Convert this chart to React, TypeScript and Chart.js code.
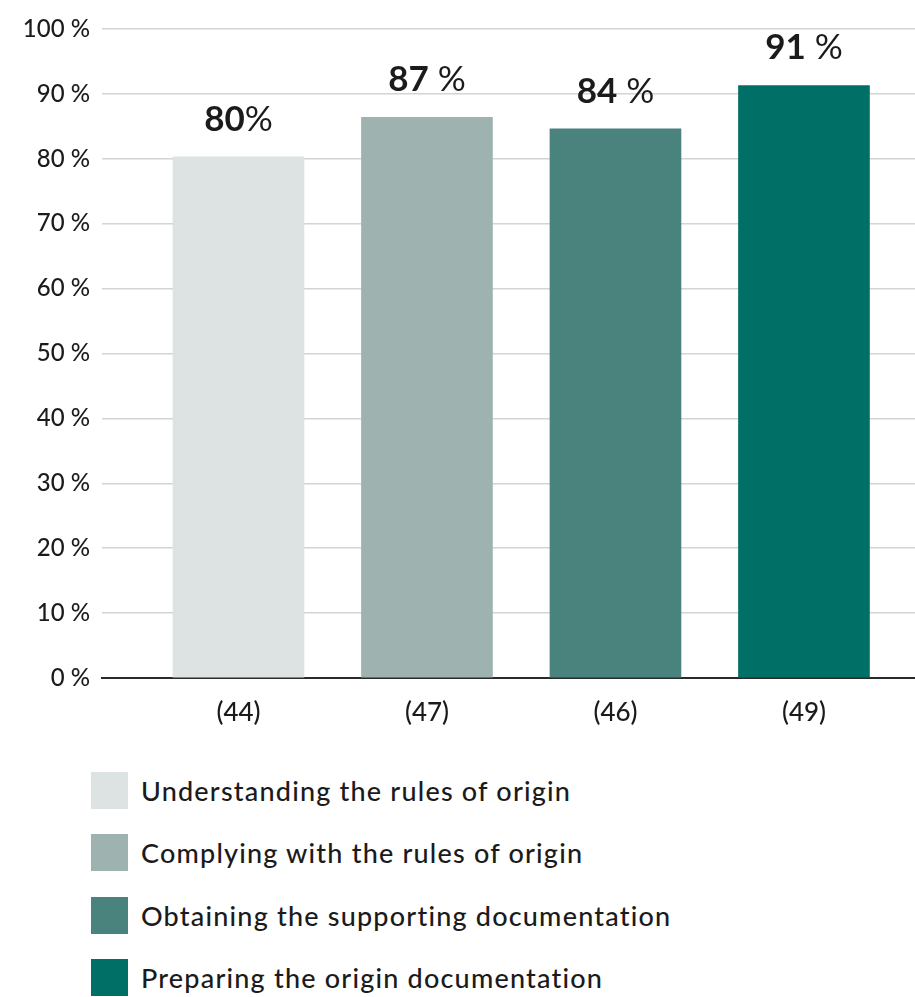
import React, { useEffect, useRef } from "react";
import { Chart, registerables } from "chart.js";

Chart.register(...registerables);

const categories = [
  "Understanding the rules of origin",
  "Complying with the rules of origin",
  "Obtaining the supporting documentation",
  "Preparing the origin documentation",
];
const values = [80.3, 86.4, 84.6, 91.3];
const valueLabels = ["80%", "87 %", "84 %", "91 %"];
const sampleLabels = ["(44)", "(47)", "(46)", "(49)"];
const colors = ["#dde3e2", "#9eb3b0", "#4a837d", "#006f66"];
const yTicks = [0, 10, 20, 30, 40, 50, 60, 70, 80, 90, 100];

const FONT = "Lato, 'Noto Sans', sans-serif";
const TEXT = "#1b1b1b";

const labelPlugin = {
  id: "barValueLabels",
  afterDatasetsDraw(chart: any) {
    const ctx = chart.ctx;
    const meta = chart.getDatasetMeta(0);
    meta.data.forEach((bar: any, i: number) => {
      const text = valueLabels[i];
      const m = text.match(/^(\d+)(.*)$/);
      const num = m ? m[1] : text;
      const rest = m ? m[2] : "";
      ctx.save();
      ctx.fillStyle = TEXT;
      ctx.textBaseline = "alphabetic";
      ctx.font = `700 35px ${FONT}`;
      const w1 = ctx.measureText(num).width;
      ctx.font = `400 35px ${FONT}`;
      const w2 = ctx.measureText(rest).width;
      const total = w1 + w2;
      const x0 = bar.x - total / 2;
      const yb = bar.y - 26;
      ctx.font = `700 35px ${FONT}`;
      ctx.textAlign = "left";
      ctx.fillText(num, x0, yb);
      ctx.font = `400 35px ${FONT}`;
      ctx.fillText(rest, x0 + w1, yb);
      ctx.restore();
    });
  },
};

export default function App() {
  const ref = useRef<HTMLCanvasElement | null>(null);

  useEffect(() => {
    if (!ref.current) return;
    const chart = new Chart(ref.current, {
      type: "bar",
      data: {
        datasets: [
          {
            data: values.map((v, i) => ({ x: i, y: v })),
            backgroundColor: colors,
            borderWidth: 0,
            barThickness: 131,
          } as any,
        ],
      },
      options: {
        animation: false,
        responsive: false,
        maintainAspectRatio: false,
        layout: { padding: { top: 29, right: 0, left: 0, bottom: 0 } },
        plugins: {
          legend: { display: false },
          tooltip: { enabled: false },
        },
        scales: {
          x: {
            type: "linear",
            offset: false,
            min: -0.724,
            max: 3.589,
            afterBuildTicks: (scale: any) => {
              scale.ticks = sampleLabels.map((_, i) => ({ value: i }));
            },
            afterFit: (scale: any) => {
              scale.height = 67;
            },
            ticks: {
              autoSkip: false,
              maxRotation: 0,
              padding: 19,
              color: TEXT,
              font: { family: FONT, size: 26, weight: "500" },
              callback: (v: any) => sampleLabels[v] ?? "",
            },
            grid: { display: false, drawTicks: false },
            border: { display: true, color: "#2a2a2a", width: 2 },
          },
          y: {
            min: 0,
            max: 100,
            afterBuildTicks: (scale: any) => {
              scale.ticks = yTicks.map((v) => ({ value: v }));
            },
            afterFit: (scale: any) => {
              scale.width = 102;
            },
            ticks: {
              padding: 12,
              color: TEXT,
              font: { family: FONT, size: 24, weight: "500" },
              callback: (v: any) => `${v} %`,
            },
            grid: {
              drawTicks: false,
              color: (c: any) => (c.tick && c.tick.value === 0 ? "rgba(0,0,0,0)" : "#d4d4d4"),
              lineWidth: 1.5,
            },
            border: { display: false },
          },
        },
      },
      plugins: [labelPlugin],
    } as any);
    return () => chart.destroy();
  }, []);

  return (
    <div
      style={{
        position: "absolute",
        left: 0,
        top: 0,
        width: 915,
        height: 997,
        background: "#fff",
        fontFamily: FONT,
      }}
    >
      <canvas ref={ref} width={915} height={745} style={{ display: "block" }} />
      {categories.map((c, i) => (
        <div
          key={c}
          style={{
            position: "absolute",
            left: 91,
            top: 772 + i * 62.3,
            height: 37,
            display: "flex",
            alignItems: "center",
          }}
        >
          <div style={{ width: 37, height: 37, background: colors[i] }} />
          <span
            style={{
              marginLeft: 13,
              fontSize: 27,
              fontWeight: 500,
              letterSpacing: 1.2,
              color: TEXT,
              whiteSpace: "nowrap",
            }}
          >
            {c}
          </span>
        </div>
      ))}
    </div>
  );
}
